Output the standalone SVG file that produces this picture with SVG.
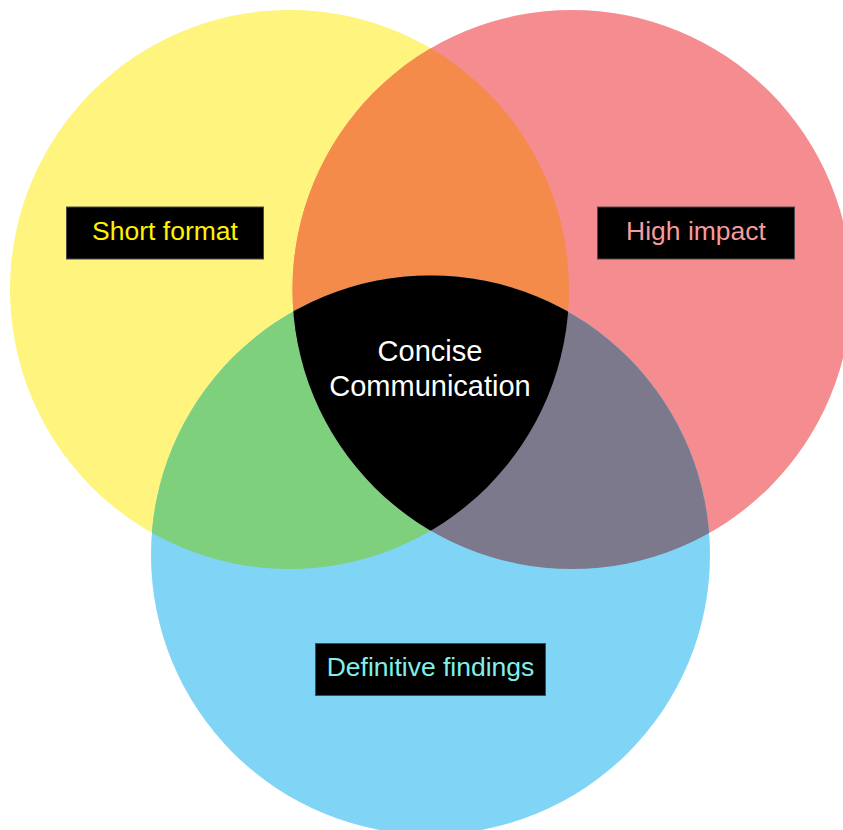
<svg xmlns="http://www.w3.org/2000/svg" width="843" height="830" viewBox="0 0 843 830">
  <style>
    text { font-family: "Liberation Sans", Arial, sans-serif; text-anchor: middle; }
    .lbl { font-size: 26.5px; }
    .box { fill: #000000; stroke: #4a4a4a; stroke-width: 1; }
    .center { font-size: 29px; fill: #ffffff; }
  </style>
  <defs>
    <circle id="cy" cx="289.5" cy="289.5" r="279.5"/>
    <circle id="cp" cx="572" cy="289.5" r="279.5"/>
    <circle id="cb" cx="430.5" cy="555" r="279.5"/>
    <clipPath id="clipY"><use href="#cy"/></clipPath>
    <clipPath id="clipP"><use href="#cp"/></clipPath>
    <clipPath id="clipB"><use href="#cb"/></clipPath>
  </defs>
  <rect width="843" height="830" fill="#ffffff"/>

  <g id="circle-short-format">
    <use href="#cy" fill="#FEF47E"/>
  </g>
  <g id="circle-high-impact">
    <use href="#cp" fill="#F58C8F"/>
  </g>
  <g id="circle-definitive-findings">
    <use href="#cb" fill="#80D5F7"/>
  </g>

  <g id="overlaps">
    <g clip-path="url(#clipY)"><use href="#cp" fill="#F48B4A"/></g>
    <g clip-path="url(#clipY)"><use href="#cb" fill="#7ED07C"/></g>
    <g clip-path="url(#clipP)"><use href="#cb" fill="#7C798C"/></g>
    <g clip-path="url(#clipY)"><g clip-path="url(#clipP)"><use href="#cb" fill="#000000"/></g></g>
  </g>

  <g id="connectors"></g>

  <g id="label-short-format">
    <rect class="box" x="66.5" y="207" width="197" height="52"/>
    <text class="lbl" x="165" y="240" fill="#FFF200">Short format</text>
  </g>
  <g id="label-high-impact">
    <rect class="box" x="597.5" y="207" width="197" height="52"/>
    <text class="lbl" x="696" y="240" fill="#F59B9C">High impact</text>
  </g>
  <g id="label-definitive-findings">
    <rect class="box" x="315.5" y="643.5" width="230" height="52"/>
    <text class="lbl" x="430.5" y="676" fill="#82EEE6">Definitive findings</text>
  </g>
  <g id="label-concise-communication">
    <text class="center" x="430" y="361">Concise</text>
    <text class="center" x="430" y="396">Communication</text>
  </g>
</svg>
